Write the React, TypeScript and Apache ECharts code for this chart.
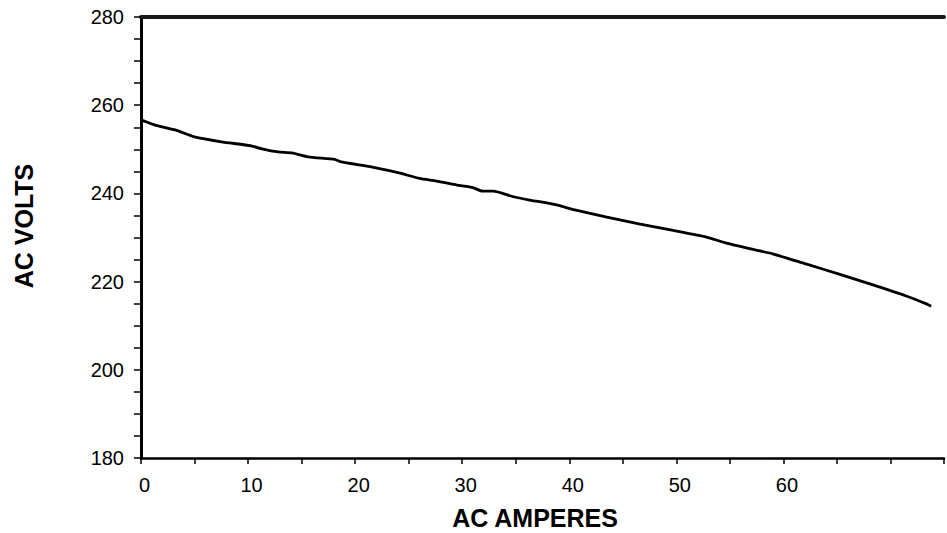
import React, { useEffect, useRef } from "react";
import * as echarts from "echarts";

const amperes = [0, 0.3, 1.3, 3.2, 5.0, 7.5, 10.3, 11.3, 12.8, 14.1, 15.6, 18.1, 18.6, 21.7, 24.2, 26.0, 27.6, 29.5, 31.0, 31.9, 32.9, 34.7, 36.3, 38.8, 40.3, 43.4, 46.5, 49.7, 52.8, 54.6, 57.7, 59.0, 62.1, 65.2, 68.3, 71.4, 73.3, 73.8];
const volts = [256.7, 256.4, 255.5, 254.4, 252.8, 251.7, 250.8, 250.1, 249.4, 249.2, 248.3, 247.7, 247.2, 245.9, 244.6, 243.4, 242.8, 241.9, 241.3, 240.5, 240.5, 239.3, 238.5, 237.4, 236.4, 234.7, 233.1, 231.6, 230.1, 228.8, 227.0, 226.3, 224.0, 221.7, 219.3, 216.8, 215.0, 214.4];

const xTickLabels = ["0", "10", "20", "30", "40", "50", "60"];
const yTickLabels = ["180", "200", "220", "240", "260", "280"];
const xTitle = "AC AMPERES";
const yTitle = "AC VOLTS";

export default function App() {
  const ref = useRef<HTMLDivElement>(null);
  useEffect(() => {
    document.body.style.margin = "0";
    const chart = echarts.init(ref.current!, null, { renderer: "svg" });
    const font = "'Liberation Sans', Arial, Helvetica, sans-serif";
    const data = amperes.map((a, i) => [a, volts[i]]);
    chart.setOption({
      animation: false,
      backgroundColor: "#ffffff",
      grid: { left: 141, right: 2, top: 17, bottom: 75 },
      xAxis: [
        {
          type: "value",
          min: 0,
          max: 75,
          interval: 5,
          position: "bottom",
          axisLine: { show: true, onZero: false, lineStyle: { color: "#000", width: 2.5 } },
          axisTick: { show: true, length: 6, inside: false, lineStyle: { color: "#000", width: 1.5 } },
          axisLabel: {
            show: true,
            margin: 17,
            color: "#000",
            fontFamily: font,
            fontSize: 20,
            padding: [0, 0, 0, 7],
            formatter: (v: number) => (xTickLabels.includes(String(v)) ? String(v) : ""),
          },
          splitLine: { show: false },
        },
        {
          type: "value",
          min: 0,
          max: 75,
          position: "top",
          axisLine: { show: true, onZero: false, lineStyle: { color: "#1a1a1a", width: 4 } },
          axisTick: { show: false },
          axisLabel: { show: false },
          splitLine: { show: false },
        },
      ],
      yAxis: {
        type: "value",
        min: 180,
        max: 280,
        interval: 5,
        axisLine: { show: true, onZero: false, lineStyle: { color: "#000", width: 3 } },
        axisTick: { show: true, length: 7, inside: false, lineStyle: { color: "#000", width: 1.5 } },
        axisLabel: {
          show: true,
          margin: 17,
          color: "#000",
          fontFamily: font,
          fontSize: 20,
          formatter: (v: number) => (yTickLabels.includes(String(v)) ? String(v) : ""),
        },
        splitLine: { show: false },
      },
      graphic: [
        {
          type: "text",
          x: 535,
          y: 518,
          style: {
            text: xTitle,
            fill: "#000",
            font: `bold 25px ${font}`,
            textAlign: "center",
            textVerticalAlign: "middle",
          },
        },
        {
          type: "text",
          x: 24,
          y: 226,
          rotation: Math.PI / 2,
          style: {
            text: yTitle,
            fill: "#000",
            font: `bold 25px ${font}`,
            textAlign: "center",
            textVerticalAlign: "middle",
          },
        },
      ],
      series: [
        {
          type: "line",
          xAxisIndex: 0,
          data,
          showSymbol: false,
          symbol: "none",
          smooth: 0.2,
          lineStyle: { color: "#000", width: 2.8 },
        },
      ],
    });
    return () => chart.dispose();
  }, []);
  return <div ref={ref} style={{ position: "absolute", left: 0, top: 0, width: 947, height: 533 }} />;
}
